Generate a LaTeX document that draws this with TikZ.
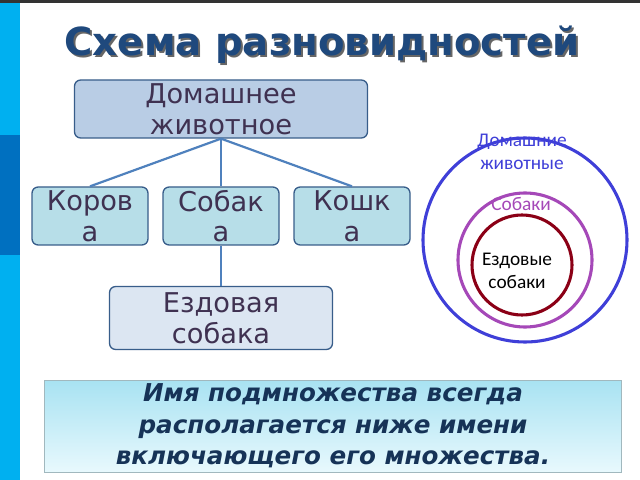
\documentclass[tikz,border=0pt]{standalone}
\usepackage{fontspec}
\setmainfont{DejaVu Sans}
\newfontfamily\circfont{Carlito}
\usetikzlibrary{shadows}
\definecolor{barcyan}{HTML}{00B0F0}
\definecolor{bardark}{HTML}{0070C0}
\definecolor{titleblue}{HTML}{1F497D}
\definecolor{topfill}{HTML}{B9CDE5}
\definecolor{kidfill}{HTML}{B7DEE8}
\definecolor{sledfill}{HTML}{DCE6F2}
\definecolor{boxline}{HTML}{385D8A}
\definecolor{linkblue}{HTML}{4F81BD}
\definecolor{textgray}{HTML}{3F3151}
\definecolor{outerc}{HTML}{3F3FD8}
\definecolor{midc}{HTML}{A548B8}
\definecolor{innerc}{HTML}{8B0016}
\definecolor{notetop}{HTML}{A8E2F2}
\definecolor{notebot}{HTML}{E8F9FD}
\tikzset{
  box/.style={draw=boxline, line width=1.5pt, rounded corners=7pt, align=center,
    font=\fontsize{31}{35}\selectfont, text=textgray, inner sep=0pt},
  link/.style={linkblue, line width=2.5pt},
  ring/.style={line width=3.5pt},
  ringtext/.style={font=\circfont\fontsize{22}{26}\selectfont, align=center}
}
\begin{document}
\begin{tikzpicture}[x=0.4mm, y=-0.4mm]
\useasboundingbox (0,0) rectangle (640,480);
\fill[white] (0,0) rectangle (640,480);
\fill[barcyan] (0,0) rectangle (20,480);
\fill[bardark] (0,135) rectangle (20,255);
\fill[black!80] (0,0) rectangle (640,3);

\node[font=\bfseries\fontsize{44}{48}\selectfont, text=black!60] at (324,47) {Схема разновидностей};
\node[font=\bfseries\fontsize{44}{48}\selectfont, text=titleblue] (title) at (322,45) {Схема разновидностей};

\node[box, fill=topfill, minimum width=293*0.4mm, minimum height=58*0.4mm] (pet) at (221,109) {Домашнее\\животное};
\node[box, fill=kidfill, minimum width=116*0.4mm, minimum height=58*0.4mm] (cow) at (90,216) {Коров\\а};
\node[box, fill=kidfill, minimum width=116*0.4mm, minimum height=58*0.4mm] (dog) at (221,216) {Собак\\а};
\node[box, fill=kidfill, minimum width=116*0.4mm, minimum height=58*0.4mm] (cat) at (352,216) {Кошк\\а};
\node[box, fill=sledfill, minimum width=223*0.4mm, minimum height=63*0.4mm] (sled) at (221,318) {Ездовая\\собака};

\draw[link] (pet.south) -- (cow.north);
\draw[link] (pet.south) -- (dog.north);
\draw[link] (pet.south) -- (cat.north);
\draw[link] (dog.south) -- (sled.north);

% circles
\draw[ring, outerc] (525,240) circle (102);
\draw[ring, midc] (525,260) circle (67);
\draw[ring, innerc] (522,265) circle (50);
\node[ringtext, text=outerc] (lpet) at (522,152) {Домашние\\животные};
\node[ringtext, text=midc] (ldog) at (521,204) {Собаки};
\node[ringtext] (lsled) at (517,271) {Ездовые\\собаки};

% note
\node[draw=kidfill!60!gray, top color=notetop, bottom color=notebot, minimum width=577*0.4mm,
  minimum height=92*0.4mm, align=center, text=titleblue!70!black,
  font=\bfseries\itshape\fontsize{28}{36}\selectfont,
  drop shadow={shadow xshift=1pt, shadow yshift=-1.5pt, opacity=0.4}] (note) at (333,426)
  {Имя подмножества всегда\\располагается ниже имени\\включающего его множества.};
\end{tikzpicture}
\end{document}
